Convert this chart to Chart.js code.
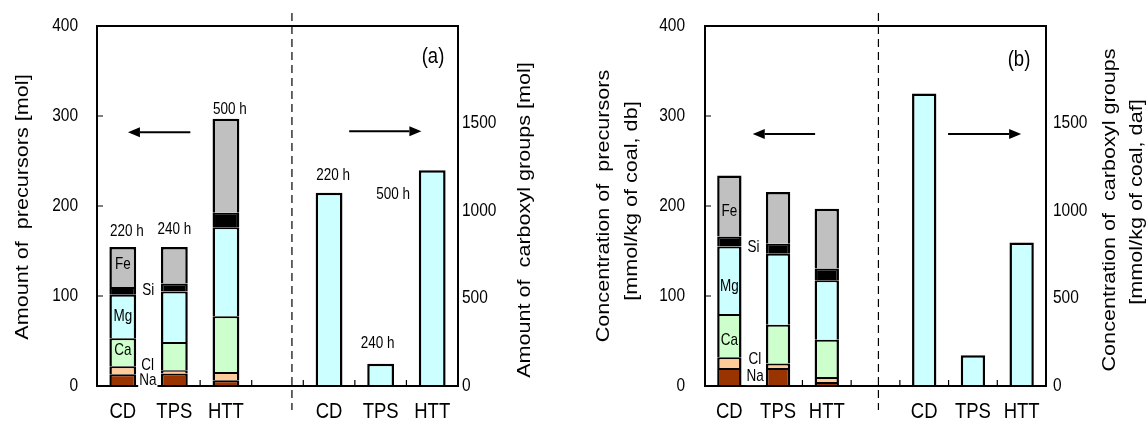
<!DOCTYPE html>
<html>
<head>
<meta charset="utf-8">
<script src="https://cdn.jsdelivr.net/npm/chart.js@4.4.1/dist/chart.umd.min.js"></script>
<style>
  html, body { margin: 0; padding: 0; background: #fff; }
  #wrap { position: relative; width: 1146px; height: 421px; overflow: hidden; }
  canvas { position: absolute; top: 0; }
  #cA { left: 0; }
  #cB { left: 573px; }
</style>
</head>
<body>
<div id="wrap">
  <canvas id="cA" width="573" height="421"></canvas>
  <canvas id="cB" width="573" height="421"></canvas>
</div>
<script>
// ---- data ----
const categories = ['CD', 'TPS', 'HTT'];
const species = ['Na', 'Cl', 'Ca', 'Mg', 'Si', 'Fe'];

// (a) amount of precursors [mol], stacked by element
const amountNa = [13, 14, 6.5];
const amountCl = [9, 3.5, 9];
const amountCa = [31, 31.5, 62];
const amountMg = [48.5, 56, 99];
const amountSi = [8.5, 9, 16];
const amountFe = [44.5, 40.5, 104.5];
// (a) amount of carboxyl groups [mol]
const amountCarboxyl = [1100, 127, 1228];

// (b) concentration of precursors [mmol/kg of coal, db]
const concNa = [20, 20, 4.5];
const concCl = [12, 5, 5.5];
const concCa = [48, 43, 41.5];
const concMg = [75, 79, 66];
const concSi = [11, 11, 13];
const concFe = [68, 57.5, 66.5];
// (b) concentration of carboxyl groups [mmol/kg of coal, daf]
const concCarboxyl = [1665, 175, 817];

const leftTicks = [0, 100, 200, 300, 400];
const rightTicks = [0, 500, 1000, 1500];
const hourLabels = ['220 h', '240 h', '500 h'];

// ---- styling ----
const FONT = '"Liberation Sans", Arial, Helvetica, sans-serif';
const SY = 1.2; // glyphs are drawn slightly taller than wide
const colors = { Na: '#993300', Cl: '#FFCC99', Ca: '#CCFFCC', Mg: '#CCFFFF', Si: '#000000', Fe: '#C0C0C0' };
const carboxylColor = '#CCFFFF';
const xLabels = [...categories, '', ...categories];

function leftSlots(v) { return [v[0], v[1], v[2], null, null, null, null]; }
function rightSlots(v) { return [null, null, null, null, v[0], v[1], v[2]]; }

function drawText(ctx, txt, x, y, o) {
  ctx.save();
  ctx.translate(x, y);
  if (o.rotate) ctx.rotate(o.rotate);
  ctx.scale(o.sx || 1, o.sy || 1);
  ctx.font = (o.size || 14) + 'px ' + FONT;
  ctx.textAlign = o.align || 'center';
  ctx.textBaseline = 'middle';
  if (o.bg) {
    const w = ctx.measureText(txt).width;
    const x0 = ctx.textAlign === 'left' ? 0 : ctx.textAlign === 'right' ? -w : -w / 2;
    ctx.fillStyle = '#fff';
    ctx.fillRect(x0 - 1, -o.size * 0.5, w + 2, o.size);
  }
  ctx.fillStyle = o.color || '#000';
  ctx.fillText(txt, 0, 0);
  ctx.restore();
}

function arrow(ctx, x1, y, x2) {
  const dir = Math.sign(x2 - x1), hl = 12, hw = 5;
  ctx.beginPath();
  ctx.moveTo(x1, y);
  ctx.lineTo(x2 - dir * hl, y);
  ctx.lineWidth = 2;
  ctx.stroke();
  ctx.beginPath();
  ctx.moveTo(x2, y);
  ctx.lineTo(x2 - dir * hl, y - hw);
  ctx.lineTo(x2 - dir * hl, y + hw);
  ctx.closePath();
  ctx.fill();
}

function makeDecor(p) {
  return {
    id: 'decor' + p.letter,
    afterDraw(chart) {
      const ctx = chart.ctx;
      const a = chart.chartArea;
      const xs = chart.scales.x, ys = chart.scales.y, ys2 = chart.scales.y2;
      ctx.save();
      ctx.strokeStyle = '#000';
      ctx.fillStyle = '#000';

      // frame
      ctx.lineWidth = 2;
      ctx.strokeRect(a.left, a.top, a.right - a.left, a.bottom - a.top);

      // inward ticks
      ctx.lineWidth = 1.2;
      ctx.beginPath();
      leftTicks.forEach(v => {
        if (v <= 0 || v >= 400) return;
        const y = ys.getPixelForValue(v);
        ctx.moveTo(a.left, y); ctx.lineTo(a.left + 6, y);
      });
      for (let i = 0; i < xLabels.length - 1; i++) {
        const x = xs.getPixelForValue(i + 0.5);
        ctx.moveTo(x, a.bottom); ctx.lineTo(x, a.bottom - 6);
      }
      ctx.stroke();

      // dashed separator
      ctx.save();
      ctx.setLineDash([8, 5]);
      ctx.lineWidth = 1.2;
      ctx.strokeStyle = '#000';
      const dx = xs.getPixelForValue(p.dashAt);
      ctx.beginPath();
      ctx.moveTo(dx, 13); ctx.lineTo(dx, 410);
      ctx.stroke();
      ctx.restore();

      // arrows pointing at the axis each half refers to
      p.arrows.forEach(ar => {
        arrow(ctx, xs.getPixelForValue(ar.from), ys.getPixelForValue(ar.value), xs.getPixelForValue(ar.to));
      });

      // tick labels
      leftTicks.forEach(v => {
        drawText(ctx, String(v), a.left - p.leftTickPad, ys.getPixelForValue(v), { size: 15.5, sy: SY, align: 'right' });
      });
      rightTicks.forEach(v => {
        drawText(ctx, String(v), a.right + p.rightTickPad, ys2.getPixelForValue(v), { size: 15.5, sy: SY, align: 'left' });
      });
      xLabels.forEach((lab, i) => {
        if (!lab) return;
        drawText(ctx, lab, xs.getPixelForValue(i), a.bottom + 26, { size: 18.5, sy: SY });
      });

      // element labels on the first stacked bar
      species.forEach((s, k) => {
        const el = chart.getDatasetMeta(k).data[0];
        const pr = el.getProps(['x', 'y', 'base', 'width'], true);
        const cy = (pr.y + pr.base) / 2;
        const off = p.segLabels[s];
        if (off.inside) {
          drawText(ctx, s, pr.x + off.dx, cy + off.dy, { size: 13.5, sy: SY });
        } else {
          drawText(ctx, s, pr.x + pr.width / 2 + off.dx, cy + off.dy, { size: 13.5, sy: SY, align: 'left', bg: true });
        }
      });

      // operating hours
      if (p.hourOffsets) {
        const topMeta = chart.getDatasetMeta(species.length - 1);
        const coMeta = chart.getDatasetMeta(species.length);
        p.hourOffsets.left.forEach((o, i) => {
          const el = topMeta.data[i];
          drawText(ctx, hourLabels[i], el.x + o[0], el.y + o[1], { size: 13.5, sy: SY });
        });
        p.hourOffsets.right.forEach((o, i) => {
          const el = coMeta.data[4 + i];
          drawText(ctx, hourLabels[i], el.x + o[0], el.y + o[1], { size: 13.5, sy: SY });
        });
      }

      // panel letter
      drawText(ctx, p.letter, a.right + p.letterPos[0], a.top + p.letterPos[1], { size: 18.5, sy: SY });

      // axis titles (rotated)
      p.titles.forEach(t => {
        drawText(ctx, t.text, t.x, t.y, { size: 18, sx: SY, rotate: -Math.PI / 2 });
      });
      ctx.restore();
    }
  };
}

function buildChart(canvas, p) {
  const datasets = species.map((s, k) => ({
    label: s,
    data: leftSlots(p.series[k]),
    yAxisID: 'y',
    stack: 'all',
    skipNull: true,
    backgroundColor: colors[s],
    borderColor: '#000',
    borderWidth: { top: k === species.length - 1 ? 2.5 : 2, left: 2.5, right: 2.5, bottom: 0 },
    borderSkipped: 'start',
    barPercentage: p.barPct,
    categoryPercentage: 1
  }));
  datasets.push({
    label: 'COOH',
    data: rightSlots(p.carboxyl),
    yAxisID: 'y2',
    stack: 'all',
    skipNull: true,
    backgroundColor: carboxylColor,
    borderColor: '#000',
    borderWidth: 2.5,
    borderSkipped: 'start',
    barPercentage: p.barPct,
    categoryPercentage: 1
  });

  return new Chart(canvas, {
    type: 'bar',
    data: { labels: xLabels, datasets },
    options: {
      responsive: false,
      animation: false,
      devicePixelRatio: 1,
      layout: { padding: { top: 26, left: 0, right: 0, bottom: 0 } },
      plugins: { legend: { display: false }, tooltip: { enabled: false } },
      scales: {
        x: {
          stacked: true, offset: true,
          grid: { display: false }, border: { display: false },
          ticks: { display: false },
          afterFit(s) { s.height = p.xAxisH; }
        },
        y: {
          position: 'left', stacked: true, min: 0, max: 400,
          grid: { display: false }, border: { display: false },
          ticks: { display: false, stepSize: 100 },
          afterFit(s) { s.width = p.leftW; }
        },
        y2: {
          position: 'right', stacked: true, min: 0, max: 2050,
          grid: { display: false }, border: { display: false },
          ticks: { display: false },
          afterFit(s) { s.width = p.rightW; }
        }
      }
    },
    plugins: [makeDecor(p)]
  });
}

const panelA = {
  series: [amountNa, amountCl, amountCa, amountMg, amountSi, amountFe],
  carboxyl: amountCarboxyl,
  barPct: 0.52, leftW: 97, rightW: 115, xAxisH: 35,
  dashAt: 3.28,
  arrows: [{ from: 1.31, to: 0.1, value: 282 }, { from: 4.39, to: 5.79, value: 283 }],
  leftTickPad: 19, rightTickPad: 4,
  segLabels: {
    Fe: { inside: true, dx: 0, dy: -2 }, Si: { dx: 6, dy: 0 }, Mg: { inside: true, dx: 0, dy: 0 },
    Ca: { inside: true, dx: 0, dy: -2 }, Cl: { dx: 5, dy: -5 }, Na: { dx: 3, dy: 0 }
  },
  hourOffsets: {
    left: [[4, -15], [0, -17], [4, -9]],
    right: [[4, -17], [-3, -20], [-39, 24]]
  },
  letter: '(a)', letterPos: [-25, 31],
  titles: [
    { text: 'Amount of  precursors [mol]', x: 23, y: 207 },
    { text: 'Amount of  carboxyl groups [mol]', x: 525, y: 220 }
  ]
};

const panelB = {
  series: [concNa, concCl, concCa, concMg, concSi, concFe],
  carboxyl: concCarboxyl,
  barPct: 0.5, leftW: 132, rightW: 100, xAxisH: 35,
  dashAt: 3.06,
  arrows: [{ from: 1.76, to: 0.48, value: 280 }, { from: 4.49, to: 5.99, value: 280 }],
  leftTickPad: 20, rightTickPad: 7,
  segLabels: {
    Fe: { inside: true, dx: 0, dy: 6 }, Si: { dx: 6, dy: 6 }, Mg: { inside: true, dx: 0, dy: 6 },
    Ca: { inside: true, dx: 0, dy: 5 }, Cl: { dx: 7, dy: -3 }, Na: { dx: 5, dy: 0 }
  },
  hourOffsets: null,
  letter: '(b)', letterPos: [-27, 34],
  titles: [
    { text: 'Concentration of  precursors', x: 31, y: 206 },
    { text: '[mmol/kg of coal, db]', x: 59, y: 201 },
    { text: 'Concentration of  carboxyl groups', x: 537, y: 210 },
    { text: '[mmol/kg of coal, daf]', x: 564, y: 202 }
  ]
};

buildChart(document.getElementById('cA'), panelA);
buildChart(document.getElementById('cB'), panelB);
</script>
</body>
</html>
